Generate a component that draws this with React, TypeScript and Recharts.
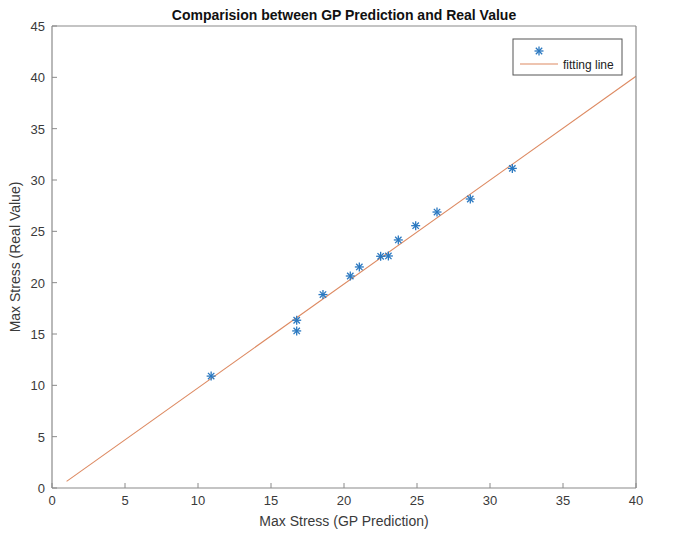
import React from "react";
import { ComposedChart, Scatter, Line, XAxis, YAxis } from "recharts";

const predicted = [10.9, 16.76, 16.76, 18.56, 20.43, 21.05, 22.51, 23.04, 23.72, 24.91, 26.37, 28.65, 31.53];
const realValue = [10.9, 16.34, 15.3, 18.84, 20.65, 21.53, 22.57, 22.6, 24.16, 25.55, 26.88, 28.15, 31.13];
const fitX = [1, 40];
const fitY = [0.65, 40.1];
const xTicks = [0, 5, 10, 15, 20, 25, 30, 35, 40];
const yTicks = [0, 5, 10, 15, 20, 25, 30, 35, 40, 45];

const points = predicted.map((x, i) => ({ x, y: realValue[i] }));
const fitData = fitX.map((x, i) => ({ x, fit: fitY[i] }));

const AXIS = "#8a8a8a";
const TXT = "#3a3a3a";
const BLUE = "#2a78c0";
const ORANGE = "#dd8a62";
const FONT = "'Liberation Sans', Arial, sans-serif";
const TL = 5;

const Star = (props: any) => {
  const { cx, cy } = props;
  const r = 4.5;
  const d = r * 0.707;
  return (
    <g stroke={BLUE} strokeWidth={1.3}>
      <line x1={cx - r} y1={cy} x2={cx + r} y2={cy} />
      <line x1={cx} y1={cy - r} x2={cx} y2={cy + r} />
      <line x1={cx - d} y1={cy - d} x2={cx + d} y2={cy + d} />
      <line x1={cx - d} y1={cy + d} x2={cx + d} y2={cy - d} />
    </g>
  );
};

const BottomTick = (props: any) => {
  const { x, y, payload } = props;
  return (
    <g>
      <line x1={x} y1={y} x2={x} y2={y - TL} stroke={AXIS} />
      <text x={x} y={y + 17} textAnchor="middle" fill={TXT} fontSize={13} fontFamily={FONT}>
        {payload.value}
      </text>
    </g>
  );
};
const TopTick = (props: any) => {
  const { x, y, payload } = props;
  if (payload.value === 0 || payload.value === 40) return <g />;
  return <line x1={x} y1={y} x2={x} y2={y + TL} stroke={AXIS} />;
};
const LeftTick = (props: any) => {
  const { x, y, payload } = props;
  return (
    <g>
      <line x1={x} y1={y} x2={x + TL} y2={y} stroke={AXIS} />
      <text x={x - 7} y={y + 5} textAnchor="end" fill={TXT} fontSize={13} fontFamily={FONT}>
        {payload.value}
      </text>
    </g>
  );
};
const RightTick = (props: any) => {
  const { x, y, payload } = props;
  if (payload.value === 0 || payload.value === 45) return <g />;
  return <line x1={x} y1={y} x2={x - TL} y2={y} stroke={AXIS} />;
};

export default function App() {
  return (
    <div style={{ position: "absolute", left: 0, top: 0, width: 694, height: 538, background: "#fff" }}>
      <ComposedChart
        width={694}
        height={538}
        margin={{ top: 25, right: 57, bottom: 0, left: 12 }}
        style={{ fontFamily: FONT }}
      >
        <XAxis
          xAxisId="b"
          type="number"
          dataKey="x"
          domain={[0, 40]}
          ticks={xTicks}
          allowDataOverflow
          height={50}
          stroke={AXIS}
          strokeWidth={1.2}
          tickLine={false}
          tickSize={0}
          tickMargin={0}
          tick={<BottomTick />}
          interval={0}
        />
        <XAxis
          xAxisId="t"
          orientation="top"
          type="number"
          dataKey="x"
          domain={[0, 40]}
          ticks={xTicks}
          height={1}
          stroke={AXIS}
          strokeWidth={1.2}
          tickLine={false}
          tickSize={0}
          tickMargin={0}
          tick={<TopTick />}
          interval={0}
        />
        <YAxis
          yAxisId="l"
          type="number"
          domain={[0, 45]}
          ticks={yTicks}
          allowDataOverflow
          width={40}
          stroke={AXIS}
          strokeWidth={1.2}
          tickLine={false}
          tickSize={0}
          tickMargin={0}
          tick={<LeftTick />}
          interval={0}
        />
        <YAxis
          yAxisId="r"
          orientation="right"
          type="number"
          domain={[0, 45]}
          ticks={yTicks}
          width={1}
          stroke={AXIS}
          strokeWidth={1.2}
          tickLine={false}
          tickSize={0}
          tickMargin={0}
          tick={<RightTick />}
          interval={0}
        />
        <Line
          xAxisId="b"
          yAxisId="l"
          data={fitData}
          dataKey="fit"
          stroke={ORANGE}
          strokeWidth={1.1}
          dot={false}
          activeDot={false}
          isAnimationActive={false}
        />
        <Scatter
          xAxisId="b"
          yAxisId="l"
          data={points}
          dataKey="y"
          shape={<Star />}
          isAnimationActive={false}
        />
        <text x={344} y={20} textAnchor="middle" fontSize={14} fontWeight="bold" fill="#111" fontFamily={FONT}>
          Comparision between GP Prediction and Real Value
        </text>
        <text x={344} y={526} textAnchor="middle" fontSize={14} fill={TXT} fontFamily={FONT}>
          Max Stress (GP Prediction)
        </text>
        <text
          x={20}
          y={257}
          textAnchor="middle"
          fontSize={14}
          fill={TXT}
          fontFamily={FONT}
          transform="rotate(-90 20 257)"
        >
          Max Stress (Real Value)
        </text>
        <g>
          <rect x={513} y={39} width={109} height={36} fill="#fff" stroke="#555" strokeWidth={1} />
          <Star cx={539} cy={51} />
          <line x1={520} y1={64} x2={558} y2={64} stroke={ORANGE} strokeWidth={1.1} />
          <text x={563} y={68.5} fontSize={12} fill="#222" fontFamily={FONT}>
            fitting line
          </text>
        </g>
      </ComposedChart>
    </div>
  );
}
